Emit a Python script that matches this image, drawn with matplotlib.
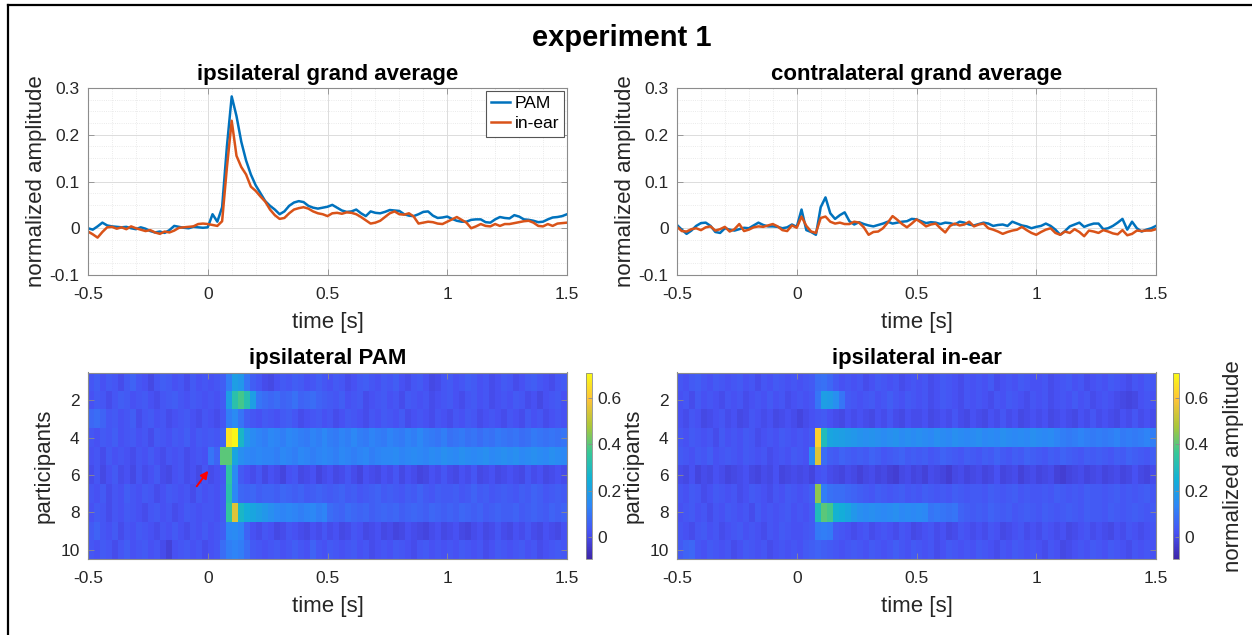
import numpy as np
import matplotlib
matplotlib.use("Agg")
import matplotlib.pyplot as plt
from matplotlib.colors import LinearSegmentedColormap
from matplotlib.lines import Line2D
from matplotlib.ticker import MultipleLocator, FuncFormatter

plt.rcParams["font.family"] = ["Liberation Sans", "DejaVu Sans"]
plt.rcParams["axes.unicode_minus"] = False

# ---------------- data ----------------
# grand averages, sampled every 20 ms from -0.5 s to 1.5 s, in units of 1e-3
time_s = np.round(np.arange(101) * 0.02 - 0.5, 2)

ipsi_pam = [
    0, -3, 4, 12, 6, 4, 3, 2, 3, 0,
    -2, 2, -1, -6, -9, -7, -10, -4, 5, 3,
    1, 0, 3, 2, 1, 2, 30, 14, 45, 175,
    282, 240, 185, 145, 115, 92, 75, 58, 48, 40,
    30, 36, 48, 55, 58, 56, 48, 44, 42, 44,
    46, 50, 44, 38, 35, 36, 40, 32, 26, 36,
    33, 32, 35, 39, 38, 37, 30, 27, 26, 30,
    35, 36, 27, 22, 23, 25, 20, 16, 14, 14,
    18, 19, 19, 13, 12, 19, 24, 22, 21, 28,
    25, 19, 18, 16, 13, 14, 19, 23, 24, 26,
    30]
ipsi_inear = [
    -7, -13, -20, -8, 2, 3, -1, 2, -2, 4,
    0, -3, -6, -4, -9, -12, -7, -9, -5, 1,
    2, 3, 4, 9, 10, 9, 7, 5, 15, 130,
    230, 155, 131, 115, 89, 80, 68, 57, 40, 28,
    20, 22, 32, 40, 43, 45, 42, 36, 32, 30,
    26, 32, 33, 31, 34, 33, 30, 24, 17, 10,
    12, 16, 24, 32, 36, 30, 29, 32, 25, 10,
    12, 14, 13, 10, 9, 14, 19, 24, 18, 12,
    0, 4, 9, 5, 4, 9, 5, 9, 9, 11,
    13, 15, 16, 12, 5, 4, 9, 5, 10, 11,
    12]
contra_pam = [
    7, -3, -12, -5, 5, 11, 12, 5, -8, -10,
    0, -3, -5, -2, 1, 0, 6, 12, 7, 4,
    4, 3, 0, 2, 8, 3, 40, -4, -8, -14,
    45, 66, 32, 20, 28, 34, 15, 8, 13, 9,
    6, 4, 7, 10, 14, 10, 12, 14, 15, 20,
    19, 15, 11, 13, 12, 9, 12, 11, 8, 14,
    12, 8, 6, 9, 12, 10, 5, 7, 8, 5,
    14, 10, 6, 4, 0, 3, 5, 10, 5, -3,
    -14, -6, 4, 8, 12, 3, 7, 10, 10, -2,
    0, 5, 12, 20, -3, 14, 0, -7, -3, 0,
    5]
contra_inear = [
    3, -6, -7, -2, 0, -4, 2, 4, -5, -2,
    3, -7, -2, 9, -6, -3, 2, 4, 3, 6,
    9, 4, -4, -6, 6, 1, 25, 5, -7, -10,
    22, 25, 14, 10, 12, 9, 9, 14, 12, 2,
    -14, -8, -7, 0, 12, 26, 18, 9, 2, 10,
    19, 12, 4, 8, 10, 0, -9, 5, 10, 6,
    8, 14, 4, 8, 10, 0, -3, -7, -12, -8,
    -5, -3, 3, -4, -10, -14, -8, -3, 0, -10,
    -14, -7, -10, -2, -8, -17, -5, -7, -10, -4,
    -7, -11, -13, -4, -15, -12, -5, -6, -5, -5,
    -2]

# single-participant maps: 10 participants x 80 bins of 25 ms, units of 1e-2
pam_heat = [
    [3, 5, 2, 4, 3, 1, 4, 6, 3, 2, 0, 3, 5, 4, 2, 3, 1, 4, 2, 3,
     2, 3, 5, 12, 20, 18, 10, 5, 3, 1, 0, 2, 4, 3, 5, 4, 2, 3, 5, 3,
     2, 4, 3, 1, 2, 4, 5, 3, 2, 4, 3, 5, 2, 1, 3, 4, 2, 0, 1, 3,
     4, 2, 3, 5, 4, 2, 3, 1, 2, 4, 3, 1, 2, 4, 5, 3, 2, 1, 3, 4],
    [2, 4, 3, 1, 3, 5, 4, 2, 3, 4, 2, 1, 3, 4, 5, 3, 2, 4, 3, 2,
     3, 2, 4, 20, 33, 38, 32, 20, 10, 8, 7, 8, 6, 7, 9, 6, 7, 8, 6, 5,
     4, 3, 5, 2, 3, 4, 1, 2, 3, 4, 2, 3, 1, 4, 3, 2, 3, 1, 2, 3,
     4, 2, 1, 3, 4, 2, 3, 1, 2, 3, 2, 4, 3, 1, 2, 0, 2, 3, 4, 2],
    [7, 8, 6, 3, 4, 2, 3, 5, 1, 3, 4, 2, 3, 1, 2, 3, 4, 2, 1, 3,
     2, 1, 3, 12, 15, 10, 5, 3, 2, 4, 3, 2, 4, 5, 3, 1, 2, 3, 4, 2,
     3, 1, 2, 4, 3, 2, 1, 3, 2, 4, 3, 2, 4, 1, 2, 3, 2, 1, 3, 2,
     1, 3, 2, 4, 3, 1, 2, 3, 2, 1, 3, 2, 1, 4, 2, 3, 1, 2, 3, 2],
    [3, 2, 4, 3, 5, 2, 3, 4, 2, 3, 1, 4, 3, 2, 4, 3, 5, 2, 4, 3,
     4, 3, 6, 66, 70, 28, 18, 15, 13, 12, 14, 13, 12, 14, 13, 12, 11, 13, 12, 14,
     12, 11, 13, 12, 14, 12, 11, 13, 12, 11, 13, 12, 11, 13, 12, 14, 12, 11, 10, 12,
     9, 10, 11, 9, 10, 8, 10, 9, 11, 10, 9, 10, 8, 9, 11, 10, 9, 10, 9, 10],
    [2, 3, 1, 4, 2, 3, 2, 1, 3, 2, 4, 2, 1, 3, 2, 3, 1, 2, 3, 2,
     10, 6, 40, 40, 22, 16, 14, 13, 14, 13, 13, 12, 14, 13, 12, 14, 13, 12, 13, 14,
     13, 12, 14, 13, 12, 13, 14, 12, 13, 14, 14, 15, 13, 14, 15, 14, 13, 15, 14, 16,
     15, 14, 16, 15, 14, 15, 16, 14, 15, 16, 15, 16, 14, 15, 16, 15, 14, 16, 15, 14],
    [1, 3, 0, 2, 4, 1, 2, 0, 3, 1, 2, 4, 1, 0, 2, 3, 1, 2, 0, 3,
     1, 2, 3, 34, 15, 4, 2, 1, 3, 0, 2, 1, -1, 2, 3, 0, 1, 2, -1, 1,
     2, 0, 1, 3, 1, -1, 2, 1, 0, 2, 1, 3, 0, 2, 1, -1, 0, 2, 1, 3,
     1, 0, 2, 1, 3, 0, 1, 2, 0, 1, 2, 1, 0, 3, 1, 2, 0, 1, 2, 1],
    [3, 2, 4, 1, 3, 2, 5, 3, 2, 4, 3, 1, 2, 4, 3, 2, 3, 1, 4, 2,
     3, 2, 4, 33, 14, 7, 6, 7, 5, 6, 6, 5, 7, 6, 5, 6, 4, 5, 6, 5,
     4, 5, 6, 4, 5, 3, 4, 5, 6, 4, 5, 4, 3, 5, 4, 6, 4, 3, 5, 4,
     4, 5, 3, 4, 6, 4, 5, 3, 4, 5, 4, 3, 5, 4, 6, 5, 3, 4, 5, 4],
    [2, 4, 3, 1, 3, 2, 4, 3, 2, 1, 3, 4, 2, 3, 1, 2, 4, 3, 2, 3,
     3, 2, 4, 35, 55, 28, 24, 22, 20, 18, 16, 14, 13, 14, 13, 12, 13, 14, 12, 13,
     8, 7, 6, 8, 7, 6, 7, 5, 6, 7, 6, 7, 5, 6, 7, 6, 5, 7, 6, 5,
     6, 5, 7, 6, 5, 6, 4, 5, 6, 5, 5, 6, 4, 5, 6, 5, 4, 6, 5, 6],
    [4, 6, 3, 2, 4, 1, 3, 2, 4, 3, 2, 1, 3, 2, 4, 2, 1, 3, 2, 4,
     2, 3, 5, 14, 15, 13, 6, 2, 1, 3, 2, 0, 1, 3, 2, 1, 0, 2, 1, 3,
     1, 2, 0, 1, 3, 2, 0, 1, 2, 0, 1, -1, 0, 2, 1, 0, -1, 1, 2, 0,
     1, 2, 0, -1, 1, 2, 0, 1, 3, 1, 0, 2, 1, 3, 1, 0, 2, 1, 0, 2],
    [3, 2, 4, 3, 1, 3, 5, 2, 3, 4, 2, 3, 1, -2, 2, 3, 4, 2, 3, 1,
     2, 3, 8, 12, 13, 12, 8, 4, 3, 2, 3, 4, 2, 3, 5, 3, 2, 6, 3, 2,
     4, 3, 2, 3, 4, 2, 3, 1, 2, 3, 2, 4, 3, 2, 1, 3, 4, 2, 3, 2,
     3, 2, 4, 3, 2, 3, 1, 2, 4, 3, 2, 3, 4, 2, 3, 1, 2, 3, 4, 3],
]
inear_heat = [
    [3, 2, 4, 5, 3, 2, 4, 3, 2, 3, 4, 2, 3, 1, 3, 2, 4, 3, 2, 3,
     2, 3, 4, 8, 9, 7, 4, 2, 3, 2, 3, 1, 2, 4, 3, 2, 3, 1, 2, 3,
     2, 3, 1, 2, 4, 3, 2, 1, 3, 2, 3, 2, 4, 1, 2, 3, 2, 4, 3, 2,
     2, 3, 1, 2, 3, 4, 2, 3, 1, 2, 3, 2, 4, 3, 2, 1, 3, 2, 4, 3],
    [2, 3, 1, 4, 2, 3, 2, 1, 3, 2, 3, 1, 2, 3, 2, 4, 2, 3, 1, 2,
     3, 2, 3, 10, 20, 19, 16, 10, 4, 3, 2, 3, 4, 2, 3, 5, 3, 2, 4, 3,
     2, 3, 1, 2, 4, 3, 2, 1, 3, 2, 3, 2, 1, 3, 2, 4, 3, 2, 1, 3,
     2, 3, 1, 2, 3, 2, 4, 2, 3, 1, 2, 3, 2, 1, 0, -1, 0, 2, 3, 2],
    [2, 1, 3, 2, 0, 1, 2, 3, 1, 2, 0, 1, 3, 2, 1, 2, 0, 1, 2, 1,
     -1, 1, 2, 3, 4, 2, 1, 0, 2, 1, 2, 1, 0, 2, 1, 3, 1, 0, 2, 1,
     1, 2, 0, 1, 2, 1, 3, 1, 0, 2, 1, 0, 2, 1, 3, 1, 2, 0, 1, 2,
     1, 2, 0, 1, 2, 1, 0, 2, 1, 3, 1, 2, 1, 0, 2, 1, 3, 1, 2, 1],
    [3, 2, 4, 3, 2, 3, 1, 4, 2, 3, 2, 4, 3, 1, 2, 3, 2, 4, 3, 2,
     3, 2, 4, 62, 30, 22, 21, 20, 19, 18, 17, 16, 17, 16, 15, 16, 17, 15, 16, 15,
     16, 15, 14, 16, 15, 14, 16, 15, 14, 15, 16, 14, 15, 14, 16, 15, 14, 15, 14, 16,
     15, 14, 15, 13, 12, 11, 12, 13, 12, 11, 12, 11, 12, 13, 11, 12, 11, 12, 13, 12],
    [4, 3, 2, 4, 3, 5, 2, 3, 4, 3, 2, 4, 3, 2, 3, 1, 2, 3, 2, 4,
     3, 2, 15, 55, 8, 5, 4, 6, 5, 4, 5, 4, 6, 5, 3, 4, 5, 6, 4, 5,
     4, 5, 3, 4, 6, 5, 4, 3, 5, 4, 3, 5, 4, 6, 4, 3, 5, 4, 6, 5,
     4, 3, 5, 4, 6, 5, 4, 3, 5, 4, 5, 4, 3, 5, 4, 6, 5, 4, 3, 5],
    [1, 0, 2, -1, 1, 0, 2, 1, -1, 0, 1, 2, 0, -1, 1, 0, 2, -1, 0, 1,
     0, 1, -1, 2, 3, 1, 0, -1, 1, 0, -2, 0, 1, -1, 0, -2, -3, 0, 1, -1,
     0, -2, 1, 0, -1, -3, 0, 1, -1, 0, 1, -1, 0, 2, -1, 0, 1, -2, 0, 1,
     -1, 0, 1, -2, -3, -1, 0, 1, -1, 0, 1, -1, 0, 1, -1, 0, 2, 0, -1, 1],
    [3, 2, 4, 3, 1, 2, 4, 3, 2, 3, 1, 2, 4, 3, 2, 1, 3, 2, 4, 3,
     2, 3, 5, 45, 12, 9, 8, 8, 7, 6, 5, 4, 3, 5, 4, 3, 4, 5, 3, 4,
     3, 5, 4, 3, 4, 3, 5, 4, 3, 4, 4, 3, 5, 4, 3, 4, 5, 3, 4, 3,
     3, 4, 3, 5, 4, 3, 4, 3, 5, 4, 4, 3, 4, 5, 3, 4, 3, 4, 5, 3],
    [2, 3, 4, 2, 3, 1, 3, 2, 4, 3, 2, 3, 1, 4, 2, 3, 2, 3, 4, 2,
     3, 2, 4, 30, 40, 38, 26, 24, 22, 18, 16, 15, 16, 15, 14, 15, 16, 14, 15, 14,
     15, 14, 10, 11, 10, 9, 10, 6, 5, 4, 5, 4, 6, 5, 4, 5, 3, 4, 5, 4,
     3, 5, 4, 3, 4, 5, 4, 3, 5, 4, 4, 3, 5, 4, 3, 4, 5, 4, 3, 4],
    [3, 2, 1, 3, 4, 2, 3, 1, 2, 3, 4, 2, 3, 2, 1, 3, 2, 4, 3, 2,
     2, 3, 4, 11, 12, 11, 4, 3, 2, 1, 2, 3, 1, 2, 3, 2, 1, 3, 2, 0,
     1, 2, 3, 1, 2, 0, 1, 3, 2, 1, 2, 1, 3, 2, 0, 1, 2, 3, 1, 2,
     1, 3, 2, 1, 2, 0, 1, 2, 3, 1, 2, 1, 0, 2, 1, 3, 2, 1, 2, 3],
    [4, 6, 7, 3, 2, 4, 3, 2, 3, 1, 2, 4, 3, 2, 3, 1, 2, 3, 2, 3,
     2, 4, 5, 6, 5, 4, 3, 2, 3, 4, 3, 2, 4, 3, 2, 3, 5, 3, 2, 4,
     3, 2, 3, 1, 2, 4, 3, 2, 3, 2, 4, 3, 2, 1, 3, 2, 4, 3, 2, 3,
     2, 1, 3, 2, 0, 1, 2, 3, 2, 4, 3, 2, 4, 3, 2, 1, 3, 2, 3, 2],
]

x_ticks = [-0.5, 0, 0.5, 1, 1.5]
y_ticks_avg = [-0.1, 0, 0.1, 0.2, 0.3]
participant_ticks = [2, 4, 6, 8, 10]
cbar_ticks = [0, 0.2, 0.4, 0.6]
clim = (-0.093, 0.71)

# ---------------- style ----------------
PAM_COL = "#0072BD"
EAR_COL = "#D95319"
AX_GRAY = "#8c8c8c"
TXT = "#262626"
parula = LinearSegmentedColormap.from_list("parula", [
    (0.2422, 0.1504, 0.6603), (0.2810, 0.3228, 0.9579),
    (0.1786, 0.5289, 0.9682), (0.0689, 0.6948, 0.8394),
    (0.2161, 0.7843, 0.5923), (0.6720, 0.7793, 0.2227),
    (0.9970, 0.7659, 0.2199), (0.9769, 0.9839, 0.0805)])

W, H = 1252, 635
fig = plt.figure(figsize=(W / 100, H / 100), dpi=100)
fmt = FuncFormatter(lambda v, p: f"{v:g}")


def rect(x0, y0, x1, y1):
    return [x0 / W, 1 - y1 / H, (x1 - x0) / W, (y1 - y0) / H]


def base_style(ax, title, ylabel, ylab_x):
    for s in ax.spines.values():
        s.set_color(AX_GRAY)
        s.set_linewidth(0.8)
    ax.tick_params(which="major", direction="in", length=4, width=0.6,
                   color=AX_GRAY, top=True, right=True, labelsize=12.5,
                   labelcolor=TXT)
    ax.tick_params(axis="x", pad=8.5)
    ax.tick_params(axis="y", pad=6)
    ax.set_xlim(-0.5, 1.5)
    ax.set_xticks(x_ticks)
    ax.xaxis.set_major_formatter(fmt)
    ax.yaxis.set_major_formatter(fmt)
    ax.set_title(title, fontsize=16, fontweight="bold", pad=6, color="black")
    ax.set_xlabel("time [s]", fontsize=16, color=TXT)
    ax.set_ylabel(ylabel, fontsize=16, color=TXT)
    ax.xaxis.set_label_coords(0.5, -0.20)
    ax.yaxis.set_label_coords(ylab_x, 0.5)


def avg_panel(box, title, pam, ear, legend=False):
    ax = fig.add_axes(rect(*box))
    ax.plot(time_s, np.array(pam) / 1000, color=PAM_COL, lw=1.8, label="PAM")
    ax.plot(time_s, np.array(ear) / 1000, color=EAR_COL, lw=1.8, label="in-ear")
    ax.set_ylim(-0.1, 0.3)
    ax.set_yticks(y_ticks_avg)
    ax.xaxis.set_minor_locator(MultipleLocator(0.1))
    ax.yaxis.set_minor_locator(MultipleLocator(0.025))
    ax.grid(which="major", color="#dcdcdc", lw=0.7)
    ax.grid(which="minor", color="#e3e3e3", lw=0.6, ls=":")
    ax.tick_params(which="minor", length=0)
    ax.set_axisbelow(True)
    base_style(ax, title, "normalized amplitude", -0.085)
    if legend:
        leg = ax.legend(loc="upper right", fontsize=12.5, handlelength=1.1,
                        handletextpad=0.25, labelspacing=0.3, borderpad=0.3,
                        borderaxespad=0.15, fancybox=False, framealpha=1)
        leg.get_frame().set_edgecolor("#555555")
        leg.get_frame().set_linewidth(0.8)
    return ax


def heat_panel(box, cbox, title, data):
    ax = fig.add_axes(rect(*box))
    im = ax.imshow(np.array(data) / 100, cmap=parula, vmin=clim[0], vmax=clim[1],
                   aspect="auto", interpolation="nearest",
                   extent=[-0.5, 1.5, 10.5, 0.5])
    ax.set_ylim(10.5, 0.5)
    ax.set_yticks(participant_ticks)
    base_style(ax, title, "participants", -0.069)
    cax = fig.add_axes(rect(*cbox))
    cb = fig.colorbar(im, cax=cax, ticks=cbar_ticks)
    cb.outline.set_edgecolor(AX_GRAY)
    cb.outline.set_linewidth(0.6)
    cax.yaxis.set_major_formatter(fmt)
    cax.tick_params(direction="in", length=3, width=0.6, color=AX_GRAY,
                    labelsize=12.5, labelcolor=TXT, pad=4)
    return ax, cb


avg_panel((88, 88, 567, 275), "ipsilateral grand average", ipsi_pam, ipsi_inear, legend=True)
avg_panel((677, 88, 1156, 275), "contralateral grand average", contra_pam, contra_inear)

ax_pam, _ = heat_panel((88, 372.5, 567, 559), (586, 372.5, 592, 559), "ipsilateral PAM", pam_heat)
ax_ear, cb = heat_panel((677, 372.5, 1156, 559), (1173, 372.5, 1179, 559), "ipsilateral in-ear", inear_heat)
cb.set_label("normalized amplitude", fontsize=16, color=TXT)
cb.ax.yaxis.set_label_coords(8.3, 0.5)

# red arrow marking the early component in one participant
ax_pam.annotate("", xy=(0.009, 5.65), xytext=(-0.053, 6.72),
                arrowprops=dict(arrowstyle="-|>", color="red", lw=1.4, mutation_scale=11))

fig.text(621.5 / W, 1 - 46 / H, "experiment 1", ha="center", va="baseline",
         fontsize=21, fontweight="bold")

# black frame of the original figure window (left and top edges)
fig.add_artist(Line2D([7.5 / W, 7.5 / W], [0, 1 - 5 / H], color="black", lw=1.6))
fig.add_artist(Line2D([7.5 / W, 1], [1 - 5 / H, 1 - 5 / H], color="black", lw=1.6))

fig.savefig("out.png", dpi=100)
